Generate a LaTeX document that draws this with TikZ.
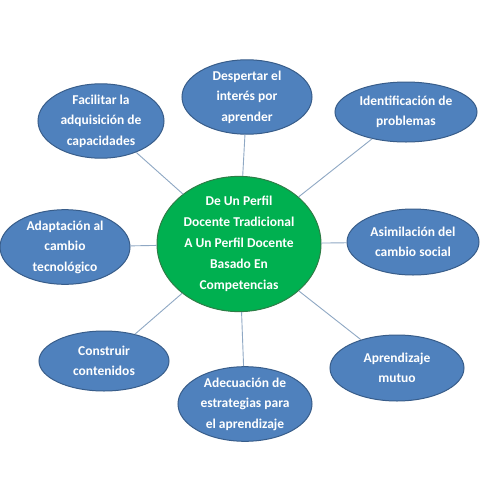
\documentclass[tikz,border=0pt]{standalone}
\usepackage{fontspec}
\setmainfont{Carlito}
\usetikzlibrary{shapes.geometric}
\definecolor{bfill}{HTML}{4F81BD}
\definecolor{bdraw}{HTML}{385D8A}
\definecolor{gfill}{HTML}{00B050}
\definecolor{gdraw}{HTML}{2E7D46}
\definecolor{conn}{HTML}{8FA8C4}
\tikzset{
  bub/.style={ellipse, fill=bfill, draw=bdraw, line width=1pt, inner sep=0pt,
    text=white, align=center, font=\bfseries\fontsize{13.5}{20.5}\selectfont},
  hub/.style={ellipse, fill=gfill, draw=gdraw, line width=1pt, inner sep=0pt,
    text=white, align=center, font=\bfseries\fontsize{13.5}{21}\selectfont,
    minimum width=164pt, minimum height=122pt},
  link/.style={draw=conn, line width=0.9pt}
}
\begin{document}
\begin{tikzpicture}[x=1pt,y=-1pt]
\useasboundingbox (0,0) rectangle (480,480);
\fill[white] (0,0) rectangle (480,480);
\node[hub] (c) at (239,244) {De Un Perfil\\Docente Tradicional\\A Un Perfil Docente\\Basado En\\Competencias};
\node[bub, minimum width=130pt, minimum height=66pt] (n1) at (247,97) {Despertar el\\interés por\\aprender};
\node[bub, minimum width=126pt, minimum height=72pt] (n2) at (101,121) {Facilitar la\\adquisición de\\capacidades};
\node[bub, minimum width=142pt, minimum height=60pt] (n3) at (406,112) {Identificación de\\problemas};
\node[bub, minimum width=130pt, minimum height=66pt] (n4) at (65,247) {Adaptación al\\cambio\\tecnológico};
\node[bub, minimum width=132pt, minimum height=66pt] (n5) at (413,242) {Asimilación del\\cambio social};
\node[bub, minimum width=130pt, minimum height=60pt] (n6) at (104,361) {Construir\\contenidos};
\node[bub, minimum width=134pt, minimum height=66pt] (n7) at (397,368) {Aprendizaje\\mutuo};
\node[bub, minimum width=134pt, minimum height=64pt] (n8) at (245,404) {Adecuación de\\estrategias para\\el aprendizaje};
\foreach \n in {n1,n2,n3,n4,n5,n6,n7,n8}{\draw[link] (c) -- (\n);}
\end{tikzpicture}
\end{document}
